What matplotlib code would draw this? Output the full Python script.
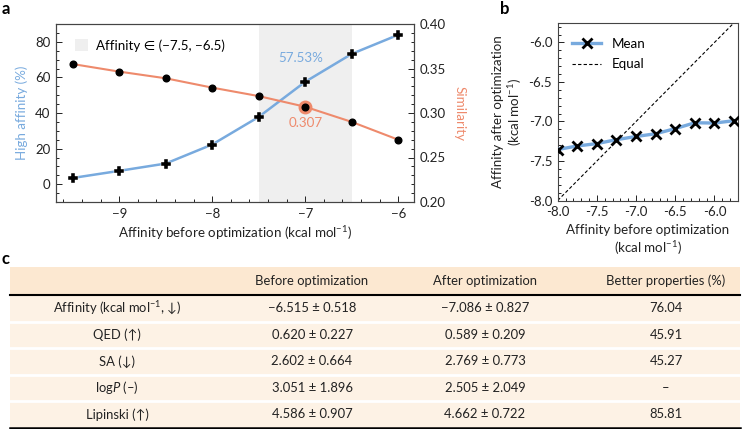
import matplotlib
matplotlib.use("Agg")
import matplotlib.pyplot as plt
from matplotlib.patches import Rectangle, Patch
from matplotlib.lines import Line2D
from matplotlib.ticker import MultipleLocator, FormatStrFormatter

FAM = ['Lato', 'DejaVu Sans']
plt.rcParams['font.family'] = FAM
plt.rcParams['mathtext.fontset'] = 'custom'
plt.rcParams['mathtext.rm'] = 'Lato'
plt.rcParams['mathtext.it'] = 'Lato:italic'
plt.rcParams['axes.unicode_minus'] = True

BLUE = '#78aade'
ORANGE = '#ee8a6c'
INK = '#222222'

# ---------------- data ----------------
affinity_bins = [-9.5, -9.0, -8.5, -8.0, -7.5, -7.0, -6.5, -6.0]
high_affinity = [3.5, 7.5, 11.6, 22.3, 37.8, 57.53, 73.2, 83.9]
similarity = [0.355, 0.3465, 0.339, 0.3285, 0.319, 0.307, 0.290, 0.270]
highlight_idx = 5
range_lo, range_hi = -7.5, -6.5

before_b = [-8.0, -7.75, -7.5, -7.25, -7.0, -6.75, -6.5, -6.25, -6.0, -5.75]
after_mean = [-7.355, -7.31, -7.28, -7.23, -7.19, -7.155, -7.09, -7.016, -7.02, -6.99]

col_headers = ['', 'Before optimization', 'After optimization', 'Better properties (%)']
row_labels = ['Affinity (kcal mol$^{-1}$, \u2193)', 'QED (\u2191)', 'SA (\u2193)',
              'log$\\it{P}$ (\u2013)', 'Lipinski (\u2191)']
before_vals = ['\u22126.515 \u00b1 0.518', '0.620 \u00b1 0.227', '2.602 \u00b1 0.664',
               '3.051 \u00b1 1.896', '4.586 \u00b1 0.907']
after_vals = ['\u22127.086 \u00b1 0.827', '0.589 \u00b1 0.209', '2.769 \u00b1 0.773',
              '2.505 \u00b1 2.049', '4.662 \u00b1 0.722']
better_vals = ['76.04', '45.91', '45.27', '\u2013', '85.81']

W, H = 743, 429
fig = plt.figure(figsize=(W / 100, H / 100), dpi=100)

TICK_FS = 9.5
LAB_FS = 9.6

def style_ticks(ax):
    ax.tick_params(which='both', direction='in', labelsize=TICK_FS, colors=INK, width=0.7)
    ax.tick_params(which='major', length=4, pad=4)
    ax.tick_params(which='minor', length=2)
    for s in ax.spines.values():
        s.set_linewidth(0.8)
        s.set_color('#444444')

# ---------------- panel a ----------------
axa = fig.add_axes([56 / W, 1 - 202 / H, 358 / W, 178 / H])
axa.axvspan(range_lo, range_hi, color='#efefef', zorder=0, lw=0)
axa.plot(affinity_bins, high_affinity, color=BLUE, lw=1.8, zorder=2)
axa.plot(affinity_bins, high_affinity, ls='none', marker='P', ms=6.5, color='black',
         mec='white', mew=0.3, zorder=4)
axa.set_xlim(-9.68, -5.83)
axa.set_ylim(-10, 90)
axa.xaxis.set_major_locator(MultipleLocator(1))
axa.xaxis.set_minor_locator(MultipleLocator(0.2))
axa.yaxis.set_major_locator(MultipleLocator(20))
axa.yaxis.set_minor_locator(MultipleLocator(5))
style_ticks(axa)
axa.set_xlabel('Affinity before optimization (kcal mol$^{-1}$)', fontsize=LAB_FS, color=INK, labelpad=3)
axa.set_ylabel('High affinity (%)', fontsize=LAB_FS, color=BLUE, labelpad=5)
axa.text(affinity_bins[highlight_idx] - 0.05, 71, f'{high_affinity[highlight_idx]:.2f}%',
         color=BLUE, fontsize=LAB_FS, ha='center', va='center')

axr = axa.twinx()
axr.plot(affinity_bins, similarity, color=ORANGE, lw=1.5, zorder=2)
axr.plot([affinity_bins[highlight_idx]], [similarity[highlight_idx]], ls='none', marker='o',
         ms=9, color=ORANGE, zorder=3)
axr.plot(affinity_bins, similarity, ls='none', marker='o', ms=4.8, color='black', zorder=4)
axr.set_ylim(0.20, 0.40)
axr.yaxis.set_major_locator(MultipleLocator(0.05))
axr.yaxis.set_minor_locator(MultipleLocator(0.01))
axr.yaxis.set_major_formatter(FormatStrFormatter('%.2f'))
style_ticks(axr)
axr.set_ylabel('Similarity', fontsize=LAB_FS, color=ORANGE, rotation=270, labelpad=14)
axr.text(affinity_bins[highlight_idx], 0.289, f'{similarity[highlight_idx]:.3f}',
         color=ORANGE, fontsize=LAB_FS, ha='center', va='center')

axa.legend(handles=[Patch(facecolor='#efefef', edgecolor='none',
                          label='Affinity \u2208 (\u22127.5, \u22126.5)')],
           loc='upper left', frameon=False, fontsize=LAB_FS, handletextpad=0.6,
           handlelength=1.0, handleheight=1.0, borderaxespad=0.6, bbox_to_anchor=(0.015, 0.99))

# ---------------- panel b ----------------
axb = fig.add_axes([557.7 / W, 1 - 200.5 / H, 180.3 / W, 177.8 / H])
axb.axline((0, 0), slope=1, color='black', ls=(0, (3, 2)), lw=0.8, zorder=1)
axb.plot(before_b, after_mean, color=BLUE, lw=2.4, marker='x', ms=6.5, mec='black', mew=2.0,
         zorder=3)
axb.set_xlim(-8.0, -5.7)
axb.set_ylim(-8.0, -5.75)
axb.xaxis.set_major_locator(MultipleLocator(0.5))
axb.xaxis.set_minor_locator(MultipleLocator(0.1))
axb.yaxis.set_major_locator(MultipleLocator(0.5))
axb.yaxis.set_minor_locator(MultipleLocator(0.1))
axb.xaxis.set_major_formatter(FormatStrFormatter('%.1f'))
axb.yaxis.set_major_formatter(FormatStrFormatter('%.1f'))
style_ticks(axb)
axb.set_xlabel('Affinity before optimization\n(kcal mol$^{-1}$)', fontsize=LAB_FS, color=INK,
               labelpad=4, linespacing=1.25)
axb.set_ylabel('Affinity after optimization\n(kcal mol$^{-1}$)', fontsize=LAB_FS, color=INK,
               labelpad=3, linespacing=1.15)
axb.legend(handles=[Line2D([], [], color=BLUE, lw=2.4, marker='x', ms=6.5, mec='black', mew=2.0,
                           label='Mean'),
                    Line2D([], [], color='black', ls=(0, (3, 2)), lw=0.8, label='Equal')],
           loc='upper left', frameon=False, fontsize=LAB_FS, handlelength=2.2,
           borderaxespad=0.4, labelspacing=0.65, bbox_to_anchor=(0.02, 0.975))

# ---------------- panel labels ----------------
fig.text(2 / W, 1 - 1 / H, 'a', fontsize=12, fontweight='bold', va='top', ha='left')
fig.text(500 / W, 1 - 1 / H, 'b', fontsize=12, fontweight='bold', va='top', ha='left')
fig.text(2 / W, 1 - 251 / H, 'c', fontsize=12, fontweight='bold', va='top', ha='left')

# ---------------- panel c (table) ----------------
axc = fig.add_axes([0, 0, 1, 1])
axc.set_xlim(0, W)
axc.set_ylim(H, 0)
axc.axis('off')

HEAD_C = '#fce8d1'
ROW_C = '#fdf2e5'
tx0, tx1 = 10, 740
head_top, head_bot = 267, 294.5
row_edges = [294.5, 321.5, 348, 374.5, 401, 427.5]
col_x = [117, 312, 485, 666]
TAB_FS = 9.4

axc.add_patch(Rectangle((tx0, head_top), tx1 - tx0, head_bot - head_top, facecolor=HEAD_C,
                        edgecolor='none'))
for i in range(len(row_labels)):
    y0, y1 = row_edges[i], row_edges[i + 1]
    axc.add_patch(Rectangle((tx0, y0), tx1 - tx0, y1 - y0, facecolor=ROW_C, edgecolor='none'))
    if i > 0:
        axc.plot([tx0, tx1], [y0, y0], color='white', lw=2.0)
axc.plot([tx0, tx1], [head_bot, head_bot], color='black', lw=1.5)
axc.plot([tx0, tx1], [row_edges[-1], row_edges[-1]], color='black', lw=1.8)

head_y = (head_top + head_bot) / 2
for cx, t in zip(col_x, col_headers):
    axc.text(cx, head_y, t, ha='center', va='center', fontsize=TAB_FS, color=INK)
for i in range(len(row_labels)):
    cy = (row_edges[i] + row_edges[i + 1]) / 2
    for cx, t in zip(col_x, [row_labels[i], before_vals[i], after_vals[i], better_vals[i]]):
        axc.text(cx, cy, t, ha='center', va='center', fontsize=TAB_FS, color=INK)

fig.savefig('out.png', dpi=100)
